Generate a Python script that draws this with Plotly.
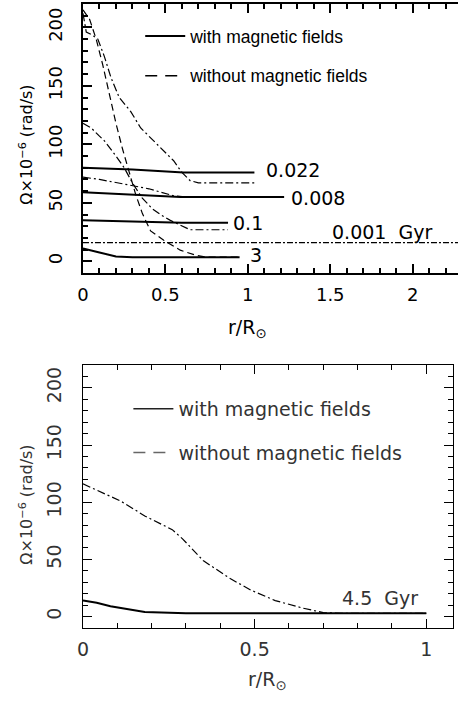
import plotly.graph_objects as go

W, H = 458, 713
FONT = "DejaVu Sans"

# ---------------- top panel data ----------------
# with magnetic fields (solid)
x_m_0001 = [0.0, 2.3]
y_m_0001 = [16, 16]
x_m_0008 = [0.0, 0.3, 0.59, 1.22]
y_m_0008 = [59, 57, 55, 55]
x_m_0022 = [0.0, 0.3, 0.61, 1.04]
y_m_0022 = [80, 78.5, 76, 76]
x_m_01 = [0.0, 0.4, 0.6, 0.88]
y_m_01 = [35, 34, 33, 33]
x_m_3 = [0.0, 0.05, 0.1, 0.2, 0.3, 0.95]
y_m_3 = [11, 9.5, 7.5, 4.2, 3.5, 3.5]

# without magnetic fields
x_n_0008 = [0.0, 0.1, 0.25, 0.4, 0.55, 0.62, 1.22]
y_n_0008 = [72, 70, 66, 62, 56, 55, 55]
x_n_0022 = [0.0, 0.02, 0.05, 0.09, 0.13, 0.17, 0.22, 0.29, 0.35, 0.43, 0.5, 0.55, 0.6, 0.65, 0.7, 1.04]
y_n_0022 = [212, 196, 194, 190, 175, 157, 140, 128, 114, 103, 93, 86, 76, 69, 67, 67]
x_n_01 = [0.0, 0.05, 0.1, 0.13, 0.2, 0.25, 0.3, 0.36, 0.42, 0.47, 0.53, 0.59, 0.65, 0.88]
y_n_01 = [118, 114, 107, 103, 90, 80, 67, 54, 45, 40, 35, 31, 27, 27]
x_n_3 = [0.0, 0.04, 0.08, 0.12, 0.16, 0.2, 0.24, 0.28, 0.32, 0.36, 0.41, 0.49, 0.59, 0.69, 0.75, 0.95]
y_n_3 = [215, 207, 190, 168, 143, 118, 96, 76, 57, 41, 26, 18, 9.5, 5, 3.5, 3.5]

top_labels = ["0.022", "0.008", "0.1", "3", "0.001  Gyr"]
top_label_x = [1.1, 1.25, 0.9, 1.0, 1.5]
top_label_y = [78, 54, 33, 5, 25]

# ---------------- bottom panel data ----------------
x_m_45 = [0.0, 0.04, 0.08, 0.12, 0.18, 0.3, 0.5, 1.0]
y_m_45 = [14, 12, 9, 7, 4, 3, 2.8, 2.8]
x_n_45 = [0.0, 0.043, 0.11, 0.18, 0.26, 0.29, 0.35, 0.43, 0.49, 0.56, 0.64, 0.70, 0.75, 1.0]
y_n_45 = [116, 110, 101, 88, 76, 68, 49, 33, 23, 14, 7.4, 3.5, 2.8, 2.8]

legend_names = ["with magnetic fields", "without magnetic fields"]

fig = go.Figure()

DD = "8px,3px,2px,3px"

def add(x, y, dash, width, xa, ya, color="black"):
    fig.add_trace(go.Scatter(x=x, y=y, mode="lines", xaxis=xa, yaxis=ya,
                             line=dict(color=color, width=width, dash=dash),
                             showlegend=False, hoverinfo="skip"))

# top panel
add(x_m_0001, y_m_0001, "6px,2px,2px,2px", 1.2, "x", "y")
add(x_m_0008, y_m_0008, "solid", 2, "x", "y")
add(x_m_0022, y_m_0022, "solid", 2, "x", "y")
add(x_m_01, y_m_01, "solid", 2, "x", "y")
add(x_m_3, y_m_3, "solid", 2, "x", "y")
add(x_n_0008, y_n_0008, DD, 1.2, "x", "y")
add(x_n_0022, y_n_0022, DD, 1.2, "x", "y")
add(x_n_01, y_n_01, DD, 1.2, "x", "y")
add(x_n_3, y_n_3, "7px,4px", 1.2, "x", "y")

# bottom panel
add(x_m_45, y_m_45, "solid", 2, "x2", "y2")
add(x_n_45, y_n_45, DD, 1.2, "x2", "y2")

# legend entries
for i, (nm, dash) in enumerate(zip(legend_names, ["solid", "12px,8px"])):
    fig.add_trace(go.Scatter(x=[None], y=[None], mode="lines", name=nm, xaxis="x", yaxis="y",
                             line=dict(color="black", width=2 if i == 0 else 1.5, dash=dash),
                             legend="legend", legendgroup="t%d" % i))
    fig.add_trace(go.Scatter(x=[None], y=[None], mode="lines", name=nm, xaxis="x2", yaxis="y2",
                             line=dict(color="#222" if i == 0 else "#666", width=1.5, dash=dash),
                             legend="legend2", legendgroup="b%d" % i))

ax_common = dict(showline=True, linecolor="black", linewidth=1.5, ticks="inside",
                 tickcolor="black", showgrid=False, zeroline=False)

fig.update_layout(
    width=W, height=H, margin=dict(l=0, r=0, t=0, b=0),
    paper_bgcolor="white", plot_bgcolor="white",
    font=dict(family=FONT, color="black"),
    xaxis=dict(domain=[78 / W, 1.0], range=[0, 2.275], anchor="y", mirror="ticks",
               tickvals=[0, 0.5, 1, 1.5, 2], ticktext=["0", "0.5", "1", "1.5", "2"], ticklen=9, tickwidth=1.5,
               minor=dict(dtick=0.1, tick0=0, ticks="inside", ticklen=5, tickwidth=1.5, tickcolor="black"),
               tickfont=dict(size=18, color="black"), ticklabelstandoff=5, **ax_common),
    yaxis=dict(domain=[1 - 273 / H, 1 - 4 / H], range=[-10, 220], anchor="x", mirror=False,
               tickvals=[0, 50, 100, 150, 200], ticklen=9, tickwidth=1.5, tickangle=-90,
               minor=dict(dtick=10, tick0=0, ticks="inside", ticklen=5, tickwidth=1.5, tickcolor="black"),
               tickfont=dict(size=18, color="black"), ticklabelstandoff=12, **ax_common),
    xaxis2=dict(domain=[78 / W, 453 / W], range=[0, 1.078], anchor="y2", mirror="ticks",
                tickvals=[0, 0.5, 1], ticktext=["0", "0.5", "1"], ticklen=9, tickwidth=1,
                minor=dict(dtick=0.1, tick0=0, ticks="inside", ticklen=5, tickwidth=1, tickcolor="black"),
                tickfont=dict(size=19, color="#333"), ticklabelstandoff=4, **{**ax_common, "linewidth": 1}),
    yaxis2=dict(domain=[1 - 628 / H, 1 - 365 / H], range=[-10, 220], anchor="x2", mirror="ticks",
                tickvals=[0, 50, 100, 150, 200], ticklen=9, tickwidth=1, tickangle=-90,
                minor=dict(dtick=10, tick0=0, ticks="inside", ticklen=5, tickwidth=1, tickcolor="black"),
                tickfont=dict(size=19, color="#333"), ticklabelstandoff=13, **{**ax_common, "linewidth": 1}),
    legend=dict(x=136 / W, y=1 - 18 / H, xanchor="left", yanchor="top", bgcolor="rgba(0,0,0,0)",
                font=dict(size=17.5, color="black", family="Liberation Sans"), itemwidth=40,
                tracegroupgap=14, traceorder="grouped"),
    legend2=dict(x=124 / W, y=1 - 390 / H, xanchor="left", yanchor="top", bgcolor="rgba(0,0,0,0)",
                 font=dict(size=19, color="#333"), itemwidth=40, tracegroupgap=16,
                 traceorder="grouped"),
)

anns = []
for t, x, y in zip(top_labels, top_label_x, top_label_y):
    anns.append(dict(text=t, x=x, y=y, xref="x", yref="y", xanchor="left", yanchor="middle",
                     showarrow=False, font=dict(size=19, color="black")))
anns.append(dict(text="4.5  Gyr", x=0.75, y=16, xref="x2", yref="y2", xanchor="left", yanchor="middle",
                 showarrow=False, font=dict(size=19, color="#333")))
# axis titles
anns.append(dict(text="r/R<sub>⊙</sub>", x=245 / W, y=1 - 328 / H, xref="paper", yref="paper",
                 xanchor="center", yanchor="middle", showarrow=False, font=dict(size=19, color="black")))
anns.append(dict(text="r/R<sub>⊙</sub>", x=265 / W, y=1 - 680 / H, xref="paper", yref="paper",
                 xanchor="center", yanchor="middle", showarrow=False, font=dict(size=19, color="#333")))
anns.append(dict(text="Ω×10<sup>−6</sup> (rad/s)", x=20 / W, y=1 - 145 / H, xref="paper", yref="paper",
                 xanchor="center", yanchor="middle", textangle=-90, showarrow=False,
                 font=dict(size=16, color="black")))
anns.append(dict(text="Ω×10<sup>−6</sup> (rad/s)", x=20 / W, y=1 - 505 / H, xref="paper", yref="paper",
                 xanchor="center", yanchor="middle", textangle=-90, showarrow=False,
                 font=dict(size=16, color="#333")))
fig.update_layout(annotations=anns)

fig.write_html("out.html")
